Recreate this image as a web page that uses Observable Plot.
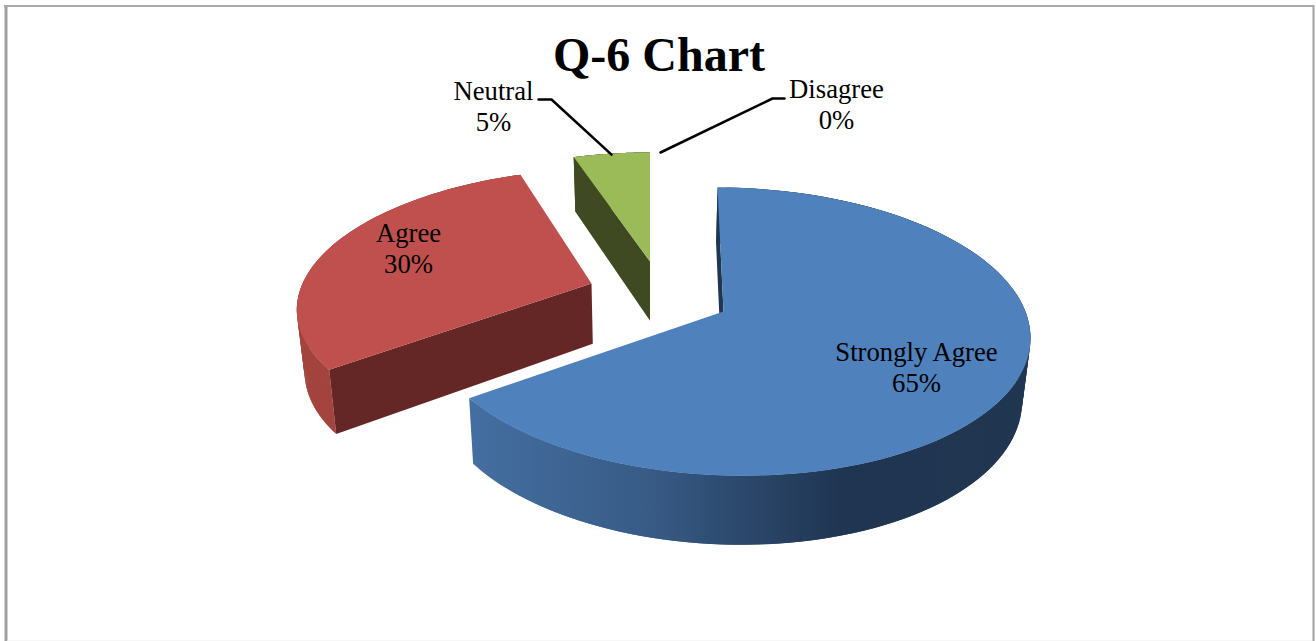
<!DOCTYPE html>
<html>
<head>
<meta charset="utf-8">
<style>html,body{margin:0;padding:0;background:#fff}svg{display:block}</style>
<script src="https://cdn.jsdelivr.net/npm/d3@7"></script>
<script src="https://cdn.jsdelivr.net/npm/@observablehq/plot@0.6"></script>
</head>
<body>
<script>
// Data
const categories = ["Strongly Agree", "Agree", "Neutral", "Disagree"];
const shares = [65, 30, 5, 0];
const chartTitle = "Q-6 Chart";

// Styles
const topColors = ["#4f81bd", "#c0504d", "#9bbb59"];
const faceColors = ["#1f3550", "#652726", "#3f4a22"];
const rimColors = ["url(#blueWall)", "#a3443f", "#3f4a22"];

// Perspective layout of the exploded slices
const pieces = [
  {apexX: 723, apexY: 311, sx: 0.98, sy: 1, turn: -1.3, q: -0.02, shear: 0.02},
  {apexX: 591, apexY: 283, sx: 0.96, sy: 0.925, turn: 2, q: 0, shear: -0.027},
  {apexX: 649.5, apexY: 261, sx: 0.92, sy: 0.88, turn: 0, q: 0, shear: 0}
];
const W = 304, H = 141.2, P = 0.139;
const project = (piece, deg) => {
  const t = (deg + piece.turn) * Math.PI / 180;
  const d = 1 + P * Math.cos(t) + piece.q * Math.sin(t);
  const dx = piece.sx * W * Math.sin(t) / d;
  const dy = -piece.sy * H * Math.cos(t) / d;
  return {x: piece.apexX + dx, y: piece.apexY + dy + piece.shear * dx};
};
const drop = (p) => ({x: p.x + (650 - p.x) * 0.022, y: p.y + 47.6 + 0.045 * p.y});
const cumulative = d3.cumsum(shares);
const spans = shares.map((s, i) => [(cumulative[i] - s) * 3.6, cumulative[i] * 3.6]);
const rim = (piece, a, b) => d3.range(0, 121).map((k) => project(piece, a + (b - a) * k / 120));
const poly = (pts, fill) => Plot.line(pts, {x: "x", y: "y", fill, stroke: "none", curve: "linear"});

// The outer wall is a run of overlapping quads, so its silhouette is straight at the extremes
const wallQuads = (arc) => d3.range(0, arc.length - 2).flatMap((k) => {
  const a = arc[k], b = arc[k + 2];
  return [a, b, drop(b), drop(a)].map((p) => ({...p, quad: k}));
});

const sliceMarks = (i) => {
  const piece = pieces[i];
  const [a, b] = spans[i];
  const arc = rim(piece, a, b);
  const apex = {x: piece.apexX, y: piece.apexY};
  const first = arc[0];
  return [
    Plot.line(wallQuads(arc), {x: "x", y: "y", z: "quad", fill: rimColors[i], stroke: "none", curve: "linear"}),
    poly([first, apex, drop(apex), drop(first)], faceColors[i]),
    poly([apex, ...arc], topColors[i])
  ];
};

// Labels
const labelRows = [
  {text: `${categories[0]}\n${shares[0]}%`, x: 916, y: 366},
  {text: `${categories[1]}\n${shares[1]}%`, x: 408, y: 247},
  {text: `${categories[2]}\n${shares[2]}%`, x: 493, y: 105},
  {text: `${categories[3]}\n${shares[3]}%`, x: 836, y: 103.5}
];
const neutralAnchor = project(pieces[2], (spans[2][0] + spans[2][1]) / 2);
const leaders = [
  [{x: 538, y: 99}, {x: 551, y: 99}, {x: neutralAnchor.x, y: neutralAnchor.y + 1}],
  [{x: 784, y: 98}, {x: 772, y: 98}, {x: 660, y: 152}]
];

const gradient = () => {
  const defs = d3.create("svg:defs");
  const g = defs.append("linearGradient").attr("id", "blueWall")
    .attr("gradientUnits", "userSpaceOnUse")
    .attr("x1", 468).attr("x2", 1030).attr("y1", 0).attr("y2", 0);
  [[0, "#446fa1"], [0.32, "#385b86"], [0.47, "#2d4a6e"], [0.66, "#203552"], [1, "#203650"]]
    .forEach(([o, c]) => g.append("stop").attr("offset", o).attr("stop-color", c));
  return defs.node();
};

const chart = Plot.plot({
  width: 1316,
  height: 641,
  margin: 0,
  style: {background: "#fff"},
  x: {domain: [0, 1316], range: [0, 1316], axis: null},
  y: {domain: [0, 641], range: [0, 641], axis: null},
  marks: [
    gradient,
    Plot.ruleX([5.5], {y1: 5, y2: 641, stroke: "#a0a0a0", strokeWidth: 3}),
    Plot.ruleX([1313], {y1: 5, y2: 641, stroke: "#a0a0a0", strokeWidth: 2}),
    Plot.ruleY([5.5], {x1: 4, x2: 1314, stroke: "#a8a8a8", strokeWidth: 2}),
    Plot.ruleY([640.5], {x1: 7, x2: 1312, stroke: "#eeeeee", strokeWidth: 1}),
    ...sliceMarks(1),
    ...sliceMarks(2),
    ...sliceMarks(0),
    ...leaders.map((l) => Plot.line(l, {x: "x", y: "y", stroke: "#000", strokeWidth: 2.5, curve: "linear"})),
    Plot.text(labelRows, {
      x: "x", y: "y", text: "text", fill: "#000",
      fontFamily: "Liberation Serif", fontSize: 26.7, lineHeight: 1.16,
      textAnchor: "middle", lineAnchor: "middle"
    }),
    Plot.text([chartTitle], {
      x: () => 658.5, y: () => 55, text: (d) => d, fill: "#000",
      fontFamily: "Liberation Serif", fontWeight: "bold", fontSize: 48,
      textAnchor: "middle", lineAnchor: "middle"
    })
  ]
});
document.body.appendChild(chart);
</script>
</body>
</html>
